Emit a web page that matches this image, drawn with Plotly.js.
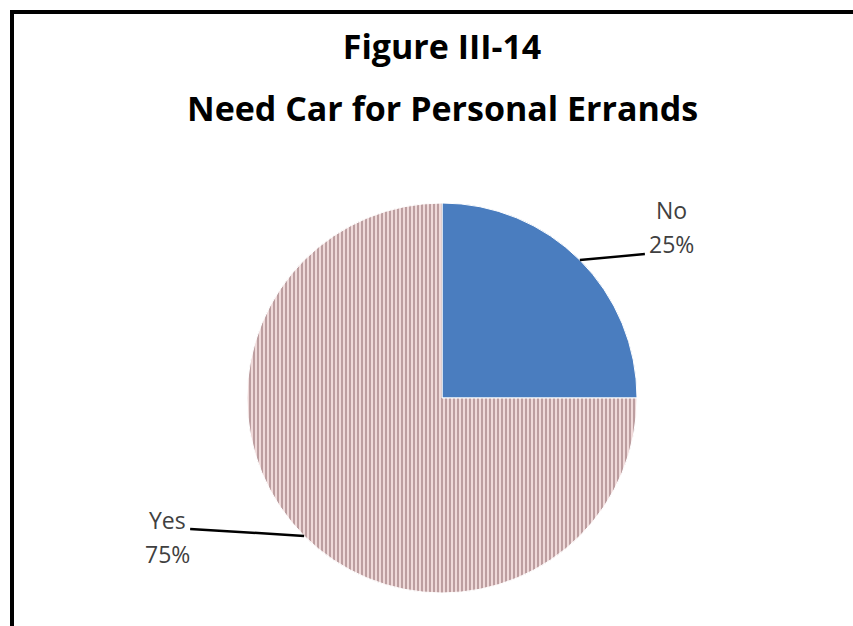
<!DOCTYPE html>
<html>
<head>
<meta charset="utf-8">
<script src="https://cdn.plot.ly/plotly-3.0.1.min.js"></script>
<style>
  html, body { margin: 0; padding: 0; background: #ffffff; overflow: hidden; }
  #frame { position: absolute; left: 10px; top: 10px; width: 900px; height: 700px;
           border-left: 4px solid #000; border-top: 4px solid #000; box-sizing: border-box; pointer-events: none; z-index: 5; }
  #chart { position: absolute; left: 0; top: 0; width: 853px; height: 626px; }
</style>
</head>
<body>
<div id="chart"></div>
<div id="frame"></div>
<script>
// ---- data ----
const labels = ['No', 'Yes'];
const values = [25, 75];
const sliceColors = ['#4a7dbf', '#efd9d9'];
const titleLine1 = 'Figure III-14';
const titleLine2 = 'Need Car for Personal Errands';

// ---- layout constants (pixels) ----
const W = 853, H = 626;
const CX = 442, CY = 398, R = 195;
const px = x => x / W;
const py = y => (H - y) / H;

const total = values.reduce((a, b) => a + b, 0);
const annotations = [];
const shapes = [];
// label placement offsets relative to slice edge point (pixels)
const textOff = [[92, -33], [-137, 1]];
const lineOff = [[65, -6], [-114, -7]];
let cum = 0;
values.forEach((v, i) => {
  const mid = (cum + v / 2) / total;
  cum += v;
  const a = 2 * Math.PI * mid;
  const ex = CX + R * Math.sin(a), ey = CY - R * Math.cos(a);
  const tx = ex + textOff[i][0], ty = ey + textOff[i][1];
  const lx = ex + lineOff[i][0], ly = ey + lineOff[i][1];
  const pct = Math.round(v / total * 100) + '%';
  shapes.push({type: 'line', xref: 'paper', yref: 'paper',
    x0: px(ex), y0: py(ey), x1: px(lx), y1: py(ly),
    line: {color: '#000000', width: 2.5}});
  annotations.push({xref: 'paper', yref: 'paper', x: px(tx), y: py(ty - 17),
    text: labels[i], showarrow: false, xanchor: 'center', yanchor: 'middle',
    font: {family: 'Open Sans, sans-serif', size: 23, color: '#404040'}});
  annotations.push({xref: 'paper', yref: 'paper', x: px(tx), y: py(ty + 17),
    text: pct, showarrow: false, xanchor: 'center', yanchor: 'middle',
    font: {family: 'Open Sans, sans-serif', size: 23, color: '#404040'}});
});

annotations.push({xref: 'paper', yref: 'paper', x: px(442), y: py(108),
  text: '<b>' + titleLine2 + '</b>', showarrow: false, xanchor: 'center', yanchor: 'middle',
  font: {family: 'Open Sans, sans-serif', size: 34, color: '#000000'}});

const data = [{
  type: 'pie',
  labels: labels,
  values: values,
  sort: false,
  direction: 'clockwise',
  rotation: 0,
  textinfo: 'none',
  hoverinfo: 'label+percent',
  showlegend: false,
  domain: {x: [px(CX - R), px(CX + R)], y: [py(CY + R), py(CY - R)]},
  marker: {
    colors: sliceColors,
    line: {color: '#ffffff', width: 1},
    pattern: {shape: ['', '|'], fgcolor: '#8a6468', bgcolor: '#efd9d9', size: 4, solidity: 0.5, fillmode: 'overlay'}
  }
}];

const layout = {
  width: W, height: H,
  margin: {l: 0, r: 0, t: 0, b: 0},
  paper_bgcolor: '#ffffff',
  plot_bgcolor: '#ffffff',
  title: {text: '<b>' + titleLine1 + '</b>', x: px(442), xanchor: 'center', y: py(47), yanchor: 'middle',
          font: {family: 'Open Sans, sans-serif', size: 34, color: '#000000'}},
  annotations: annotations,
  shapes: shapes,
  showlegend: false
};

Plotly.newPlot('chart', data, layout, {displayModeBar: false, staticPlot: true});
</script>
</body>
</html>
